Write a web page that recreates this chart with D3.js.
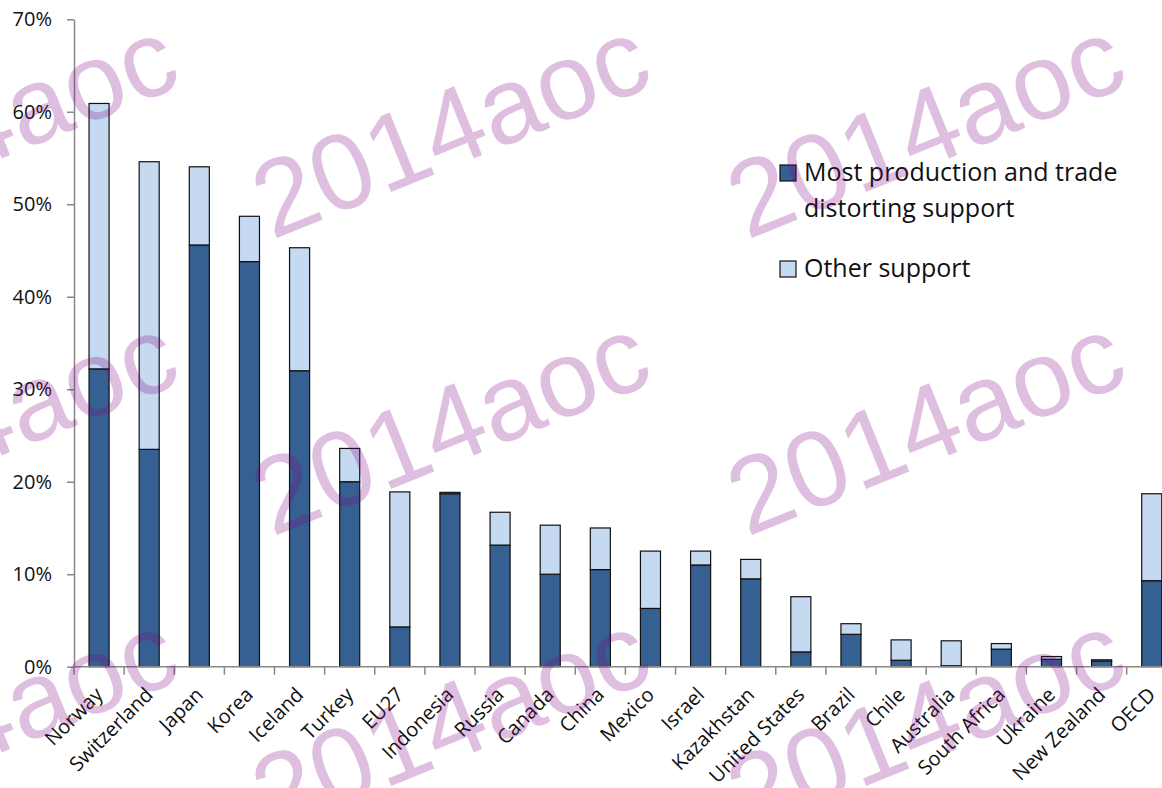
<!DOCTYPE html>
<html>
<head>
<meta charset="utf-8">
<script src="https://cdn.jsdelivr.net/npm/d3@7"></script>
<style>
  body { margin: 0; background: #fff; }
  text { font-family: "Open Sans", sans-serif; }
</style>
</head>
<body>
<div id="chart"></div>
<script>
// Data (percent)
var countries = ["Norway", "Switzerland", "Japan", "Korea", "Iceland", "Turkey", "EU27", "Indonesia",
  "Russia", "Canada", "China", "Mexico", "Israel", "Kazakhstan", "United States", "Brazil",
  "Chile", "Australia", "South Africa", "Ukraine", "New Zealand", "OECD"];
var distorting = [32.2, 23.5, 45.6, 43.8, 32.0, 20.0, 4.3, 18.7, 13.15, 10.0, 10.5, 6.3, 11.0, 9.5,
  1.6, 3.5, 0.7, 0.1, 1.9, 0.8, 0.6, 9.3];
var other = [28.7, 31.1, 8.45, 4.9, 13.3, 3.6, 14.6, 0.15, 3.55, 5.3, 4.5, 6.2, 1.5, 2.1,
  5.97, 1.15, 2.2, 2.7, 0.6, 0.3, 0.15, 9.4];
var seriesNames = ["Most production and trade distorting support", "Other support"];
var yTicks = [0, 10, 20, 30, 40, 50, 60, 70];

var svgWidth = 1162;
var svgHeight = 788;

var svg = d3.select("#chart")
  .append("svg")
  .attr("width", svgWidth)
  .attr("height", svgHeight);

svg.append("rect").attr("width", svgWidth).attr("height", svgHeight).attr("fill", "#fff");

// scales
var x = d3.scaleBand()
  .domain(countries)
  .range([74, 1176.8])
  .paddingInner(0.6)
  .paddingOuter(0.3);

var y = d3.scaleLinear()
  .domain([0, 70])
  .range([666.7, 19.3]);

var colors = ["#366092", "#C5D9F1"];

var table = countries.map(function(c, i) {
  return { country: c, distorting: distorting[i], other: other[i] };
});
var stacked = d3.stack().keys(["distorting", "other"])(table);

// bars
var layers = svg.selectAll("g.layer")
  .data(stacked)
  .enter()
  .append("g")
  .attr("class", "layer")
  .attr("fill", (d, i) => colors[i]);

layers.selectAll("rect")
  .data(d => d)
  .enter()
  .append("rect")
  .attr("x", d => x(d.data.country))
  .attr("y", d => y(d[1]))
  .attr("width", x.bandwidth())
  .attr("height", d => y(d[0]) - y(d[1]))
  .attr("stroke", "#111")
  .attr("stroke-width", 1.2);

// y axis
var leftAxis = d3.axisLeft(y)
  .tickValues(yTicks)
  .tickFormat(d => d + "%")
  .tickSize(7)
  .tickPadding(15)
  .tickSizeOuter(0);

var yAxisG = svg.append("g")
  .attr("transform", "translate(74,0)")
  .call(leftAxis);
yAxisG.select(".domain").attr("stroke", "#888").attr("stroke-width", 1.5);
yAxisG.selectAll(".tick line").attr("stroke", "#888").attr("stroke-width", 1.5);
yAxisG.selectAll(".tick text")
  .attr("fill", "#111")
  .style("font-size", "20px")
  .style("font-family", "'Open Sans', sans-serif");

// x axis: line, ticks between categories, rotated labels
var x0 = x.range()[0];
svg.append("line")
  .attr("x1", x0).attr("x2", x.range()[1])
  .attr("y1", y(0)).attr("y2", y(0))
  .attr("stroke", "#888").attr("stroke-width", 1.5);

svg.selectAll("line.xtick")
  .data(d3.range(countries.length + 1))
  .enter()
  .append("line")
  .attr("class", "xtick")
  .attr("x1", i => x0 + i * x.step())
  .attr("x2", i => x0 + i * x.step())
  .attr("y1", y(0))
  .attr("y2", y(0) + 8)
  .attr("stroke", "#888")
  .attr("stroke-width", 1.5);

svg.selectAll("text.xlabel")
  .data(countries)
  .enter()
  .append("text")
  .attr("class", "xlabel")
  .attr("text-anchor", "end")
  .attr("transform", d => `translate(${x(d) + x.bandwidth() / 2 + 5}, 696) rotate(-45)`)
  .attr("fill", "#111")
  .style("font-size", "20px")
  .text(d => d);

// legend
var legend = svg.append("g");
var legendRows = [
  { y: 165, lines: ["Most production and trade", "distorting support"] },
  { y: 261, lines: ["Other support"] }
];
legendRows.forEach(function(row, i) {
  legend.append("rect")
    .attr("x", 780).attr("y", row.y)
    .attr("width", 16).attr("height", 16)
    .attr("fill", colors[i])
    .attr("stroke", "#111")
    .attr("stroke-width", 1.2);
  row.lines.forEach(function(line, j) {
    legend.append("text")
      .attr("x", 804)
      .attr("y", row.y + 16 + j * 36)
      .attr("fill", "#111")
      .style("font-size", "25px")
      .text(line);
  });
});

// watermark on top
var wmX = [-200, 272, 747];
var wmY = [240, 537, 834];
wmY.forEach(function(yy) {
  wmX.forEach(function(xx) {
    svg.append("text")
      .attr("transform", `translate(${xx}, ${yy}) rotate(-22)`)
      .attr("fill", "#800080")
      .attr("fill-opacity", 0.25)
      .style("font-family", "'Liberation Sans', Arial, sans-serif")
      .style("font-size", "108px")
      .text("2014aoc");
  });
});
</script>
</body>
</html>
